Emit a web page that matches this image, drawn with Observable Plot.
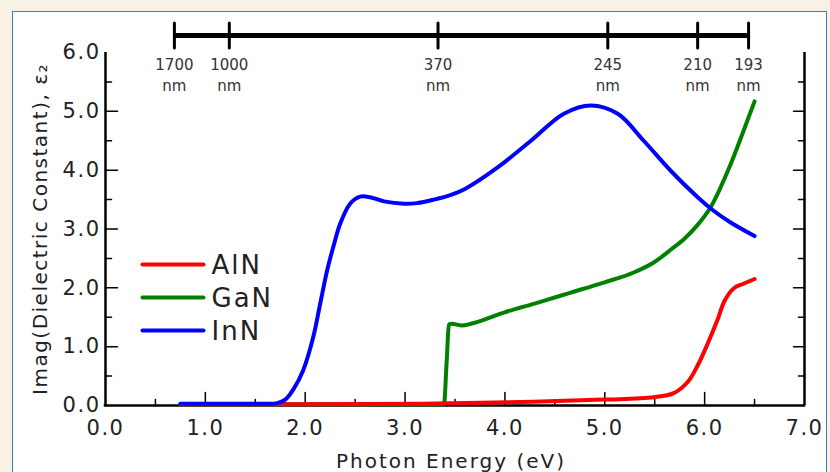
<!DOCTYPE html>
<html><head><meta charset="utf-8">
<script src="https://cdn.jsdelivr.net/npm/d3@7"></script>
<script src="https://cdn.jsdelivr.net/npm/@observablehq/plot@0.6"></script>
<style>
html,body{margin:0;padding:0;background:#f8f1e6;}
#wrap{position:relative;width:830px;height:472px;overflow:hidden;background:#f8f1e6;}
#panel{position:absolute;left:12px;top:11px;width:815px;height:480px;background:#fff;border:1.5px solid #3f7fae;box-sizing:border-box;}
#chart{position:absolute;left:0;top:0;}
#chart svg{overflow:visible;}
g[aria-label="x-axis tick label"] text, g[aria-label="y-axis tick label"] text{letter-spacing:1.5px;}
</style></head>
<body><div id="wrap"><div id="panel"></div><div id="chart"></div></div>
<script>
// ---- data ----
const energyInN = [0.75, 1.2, 1.6, 1.72, 1.8, 1.88, 1.98, 2.08, 2.15, 2.22, 2.29, 2.35, 2.45, 2.55, 2.65, 2.79, 2.99, 3.12, 3.29, 3.46, 3.6, 3.93, 4.26, 4.59, 4.86, 5.13, 5.39, 5.66, 5.93, 6.09, 6.26, 6.5];
const epsInN    = [0.03, 0.03, 0.03, 0.04, 0.1, 0.27, 0.6, 1.16, 1.73, 2.3, 2.75, 3.09, 3.43, 3.55, 3.54, 3.47, 3.43, 3.44, 3.5, 3.58, 3.68, 4.05, 4.5, 4.96, 5.1, 4.96, 4.5, 3.99, 3.54, 3.31, 3.11, 2.88];

const energyGaN = [0.75, 2.0, 3.0, 3.39, 3.415, 3.44, 3.47, 3.57, 3.66, 3.99, 4.33, 4.66, 4.99, 5.29, 5.49, 5.67, 5.8, 5.93, 6.06, 6.26, 6.39, 6.5];
const epsGaN    = [0.02, 0.02, 0.02, 0.02, 0.7, 1.38, 1.39, 1.36, 1.39, 1.58, 1.75, 1.92, 2.09, 2.26, 2.43, 2.66, 2.84, 3.07, 3.37, 4.1, 4.67, 5.17];

const energyAlN = [0.75, 2.0, 3.16, 4.16, 4.99, 5.49, 5.69, 5.83, 5.93, 6.03, 6.13, 6.2, 6.29, 6.39, 6.5];
const epsAlN    = [0.02, 0.02, 0.03, 0.06, 0.1, 0.14, 0.21, 0.4, 0.68, 1.05, 1.46, 1.78, 1.99, 2.07, 2.15];

const seriesNames  = ["AlN", "GaN", "InN"];
const seriesColors = ["#ff0000", "#008000", "#0000ff"];

const xTicks      = [0, 1, 2, 3, 4, 5, 6, 7];
const xMinorTicks = [0.5, 1.5, 2.5, 3.5, 4.5, 5.5, 6.5];
const yTicks      = [0, 1, 2, 3, 4, 5, 6];
const yMinorTicks = [0.5, 1.5, 2.5, 3.5, 4.5, 5.5];

const waveLabels = [1700, 1000, 370, 245, 210, 193];
const waveEnergy = [0.69, 1.24, 3.33, 5.03, 5.93, 6.44];

const xLabel = "Photon Energy (eV)";
const yLabel = "Imag(Dielectric Constant), ε₂";

// ---- build tables ----
const seriesData = {AlN: [energyAlN, epsAlN], GaN: [energyGaN, epsGaN], InN: [energyInN, epsInN]};
const rows = [];
for (const name of seriesNames) {
  const [E, V] = seriesData[name];
  E.forEach((e, i) => rows.push({material: name, energy: e, eps: V[i]}));
}
const waves = waveLabels.map((nm, i) => ({nm, energy: waveEnergy[i]}));
const colorOf = Object.fromEntries(seriesNames.map((n, i) => [n, seriesColors[i]]));

const FONT = "DejaVu Sans";
const tickShape = {draw(ctx, l) { ctx.moveTo(0, 0); ctx.lineTo(0, -l); }};
const tick = (values, opts) => Plot.vector(values, {anchor: "start", shape: tickShape, stroke: "#000", strokeWidth: 1.5, ...opts});

const curve = (name, kind) => Plot.line(rows.filter(d => d.material === name), {
  x: "energy", y: "eps", stroke: colorOf[name], strokeWidth: 4, curve: kind
});

const legendMarks = seriesNames.flatMap((name, i) => [
  Plot.vector([name], {frameAnchor: "top-left", dx: 37, dy: 212 + 33 * i, rotate: 90, length: 61,
    anchor: "start", shape: tickShape, stroke: seriesColors[i], strokeWidth: 4}),
  Plot.text([name], {frameAnchor: "top-left", dx: 106, dy: 213 + 33 * i, text: d => d,
    textAnchor: "start", lineAnchor: "middle", fontSize: 26, fill: "#222"})
]);

const chart = Plot.plot({
  width: 830,
  height: 472,
  marginLeft: 105,
  marginRight: 26,
  marginTop: 52,
  marginBottom: 67,
  style: {background: "transparent", fontFamily: FONT, color: "#222"},
  x: {domain: [0, 7]},
  y: {domain: [0, 6]},
  marks: [
    // ticks
    tick(xTicks.slice(1, -1), {x: d => d, y: () => 0, length: 13}),
    tick(xMinorTicks, {x: d => d, y: () => 0, length: 6}),
    tick(yTicks.slice(1, -1), {x: () => 0, y: d => d, rotate: 90, length: 12}),
    tick(yMinorTicks, {x: () => 0, y: d => d, rotate: 90, length: 6}),
    tick(yTicks.slice(1, -1), {x: () => 7, y: d => d, rotate: -90, length: 11}),
    tick(yMinorTicks, {x: () => 7, y: d => d, rotate: -90, length: 6}),
    // axis lines
    Plot.ruleX([0, 7], {stroke: "#000", strokeWidth: 2.5}),
    Plot.ruleY([0], {stroke: "#000", strokeWidth: 2.5, strokeLinecap: "square"}),
    // tick labels
    Plot.axisX({ticks: xTicks, tickSize: 0, tickPadding: 15, tickFormat: d3.format(".1f"),
      fontSize: 21, fill: "#222", label: null}),
    Plot.axisY({ticks: yTicks, tickSize: 0, tickPadding: 5, tickFormat: d3.format(".1f"),
      fontSize: 21, fill: "#222", label: null}),
    // curves
    curve("GaN", "monotone-x"),
    curve("AlN", "catmull-rom"),
    curve("InN", "catmull-rom"),
    // wavelength ruler
    Plot.ruleY([0], {y: () => 6, x1: () => waveEnergy[0], x2: () => waveEnergy[waveEnergy.length - 1],
      dy: -17, stroke: "#000", strokeWidth: 5}),
    Plot.vector(waves, {x: "energy", y: () => 6, dy: -17, length: 25, anchor: "middle",
      shape: tickShape, stroke: "#000", strokeWidth: 3}),
    Plot.text(waves, {x: "energy", y: () => 6, dy: 21, text: d => `${d.nm}\nnm`,
      fontSize: 15, lineHeight: 1.4, fill: "#333"}),
    // axis titles
    Plot.text([xLabel], {frameAnchor: "bottom", dy: 56, dx: -4, text: d => d, fontSize: 20,
      lineAnchor: "middle", textAnchor: "middle", fill: "#222"}),
    Plot.text([yLabel], {frameAnchor: "left", dx: -65, rotate: -90, text: d => d, fontSize: 20,
      lineAnchor: "middle", textAnchor: "middle", fill: "#222"}),
    ...legendMarks
  ]
});
// letter spacing to approximate the wide geometric face of the original
d3.select(chart).selectAll("text").each(function () {
  const t = this.textContent;
  if (t === xLabel) this.style.letterSpacing = "2px";
  else if (t === yLabel) this.style.letterSpacing = "1.5px";
  else if (seriesNames.includes(t)) this.style.letterSpacing = "2px";
});
document.getElementById("chart").appendChild(chart);
</script>
</body></html>
